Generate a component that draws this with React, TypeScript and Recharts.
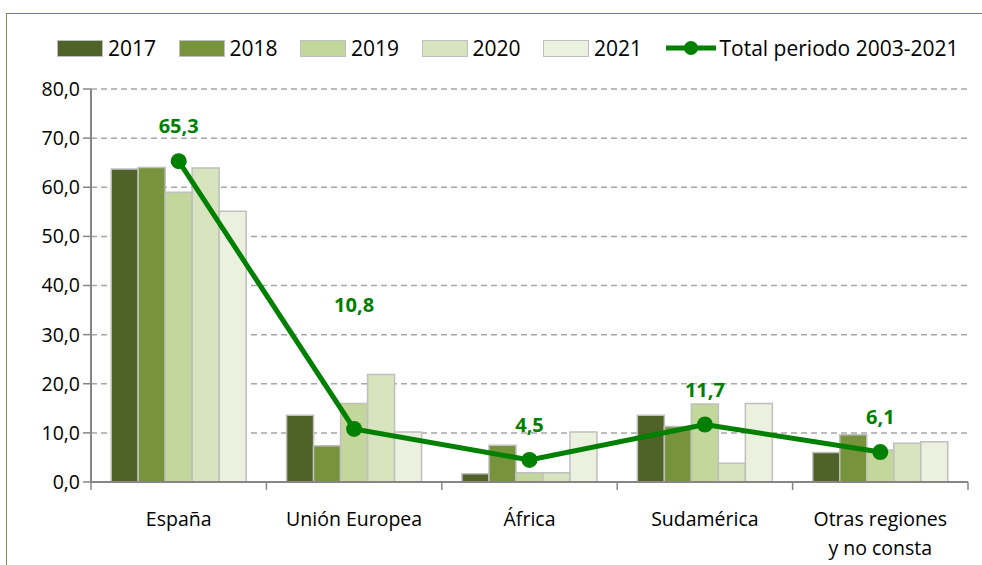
import { ComposedChart, Bar, Line, XAxis, YAxis, CartesianGrid, Legend, LabelList } from 'recharts';

const regions = ['España', 'Unión Europea', 'África', 'Sudamérica', 'Otras regiones\ny no consta'];
const y2017 = [63.7, 13.6, 1.7, 13.6, 6.0];
const y2018 = [64.0, 7.4, 7.5, 11.3, 9.6];
const y2019 = [59.0, 16.0, 1.9, 15.9, 6.5];
const y2020 = [63.9, 21.9, 1.9, 3.8, 7.9];
const y2021 = [55.1, 10.2, 10.2, 16.0, 8.2];
const total = [65.3, 10.8, 4.5, 11.7, 6.1];
const yTicks = [0, 10, 20, 30, 40, 50, 60, 70, 80];

const years = ['2017', '2018', '2019', '2020', '2021'];
const barColors = ['#4f6228', '#77933c', '#c3d69b', '#d7e4bd', '#ebf1de'];
const lineColor = '#008000';
const font = '"Open Sans", "Liberation Sans", sans-serif';

const data = regions.map((name, i) => ({
  name,
  '2017': y2017[i],
  '2018': y2018[i],
  '2019': y2019[i],
  '2020': y2020[i],
  '2021': y2021[i],
  total: total[i],
}));

const fmt = (v: number) => v.toFixed(1).replace('.', ',');

const W = 982;
const H = 565;
const PLOT_LEFT = 91;
const PLOT_RIGHT = 968;
const HALF_BAND = (PLOT_RIGHT - PLOT_LEFT) / regions.length / 2;
const LEGEND_H = 24;

function CategoryTick(props: any) {
  const { x, y, payload, index } = props;
  const lines = String(payload.value).split('\n');
  return (
    <g>
      <line x1={x - HALF_BAND} x2={x - HALF_BAND} y1={y} y2={y + 8} stroke="#868686" strokeWidth={1.5} />
      {index === regions.length - 1 && (
        <line x1={x + HALF_BAND} x2={x + HALF_BAND} y1={y} y2={y + 8} stroke="#868686" strokeWidth={1.5} />
      )}
      <text x={x} y={y + 44} textAnchor="middle" fontSize={19.5} fontFamily={font} fill="#000">
        {lines.map((l, k) => (
          <tspan key={k} x={x} dy={k === 0 ? 0 : 29}>{l}</tspan>
        ))}
      </text>
    </g>
  );
}

function TotalLabel(props: any) {
  const { x, y, value, index } = props;
  // the UE label sits well above its point in the original
  const lift = index === 1 ? 117 : 28;
  return (
    <text x={x} y={y - lift} textAnchor="middle" fontSize={20} fontWeight="bold" fontFamily={font} fill={lineColor}>
      {fmt(value)}
    </text>
  );
}

function LegendContent() {
  return (
    <div style={{ display: 'flex', alignItems: 'center', fontFamily: font, fontSize: 21, lineHeight: '24px', color: '#000', paddingLeft: 57 }}>
      {years.map((yr, i) => (
        <div key={yr} style={{ display: 'flex', alignItems: 'center', width: 121.5, flexShrink: 0 }}>
          <span style={{ width: 44, height: 15, background: barColors[i], border: '1.5px solid #bfbfbf', marginRight: 5 }} />
          <span>{yr}</span>
        </div>
      ))}
      <div style={{ display: 'flex', alignItems: 'center' }}>
        <svg width={52} height={18} style={{ marginRight: 3 }}>
          <line x1={1} x2={51} y1={9} y2={9} stroke={lineColor} strokeWidth={5} />
          <circle cx={26} cy={9} r={7} fill={lineColor} />
        </svg>
        <span>Total periodo 2003-2021</span>
      </div>
    </div>
  );
}

export default function App() {
  return (
    <div style={{ position: 'absolute', left: 0, top: 0, width: W, height: H, background: '#fff' }}>
      <div style={{ position: 'absolute', left: 6, top: 13, width: W, height: H, borderTop: '1.5px solid #76923c', borderLeft: '1.5px solid #76923c' }} />
      <ComposedChart
        width={W}
        height={H}
        data={data}
        margin={{ top: 89 - LEGEND_H, right: W - PLOT_RIGHT, bottom: 0, left: 0 }}
        barCategoryGap="11.5%"
        barGap={0}
        style={{ position: 'absolute', left: 0, top: 0 }}
      >
        <CartesianGrid vertical={false} stroke="#a6a6a6" strokeDasharray="6 4" strokeWidth={1.5} />
        <XAxis
          dataKey="name"
          height={83}
          tickLine={false}
          tickSize={0}
          tickMargin={0}
          axisLine={{ stroke: '#868686', strokeWidth: 2 }}
          tick={<CategoryTick />}
          interval={0}
        />
        <YAxis
          width={PLOT_LEFT}
          domain={[0, 80]}
          ticks={yTicks}
          tickFormatter={fmt}
          tickSize={8}
          tickMargin={3}
          tickLine={{ stroke: '#868686', strokeWidth: 1.5 }}
          axisLine={{ stroke: '#868686', strokeWidth: 2 }}
          tick={{ fontSize: 19.5, fontFamily: font, fill: '#000' }}
        />
        <Legend
          verticalAlign="top"
          content={<LegendContent />}
          wrapperStyle={{ position: 'absolute', top: 36, left: 0, width: W, height: LEGEND_H }}
        />
        {years.map((yr, i) => (
          <Bar key={yr} dataKey={yr} fill={barColors[i]} stroke="#bfbfbf" strokeWidth={1.5} isAnimationActive={false} />
        ))}
        <Line
          dataKey="total"
          stroke={lineColor}
          strokeWidth={5}
          dot={{ r: 8, fill: lineColor, stroke: lineColor, strokeWidth: 0 }}
          activeDot={false}
          isAnimationActive={false}
        >
          <LabelList dataKey="total" content={<TotalLabel />} />
        </Line>
      </ComposedChart>
    </div>
  );
}
